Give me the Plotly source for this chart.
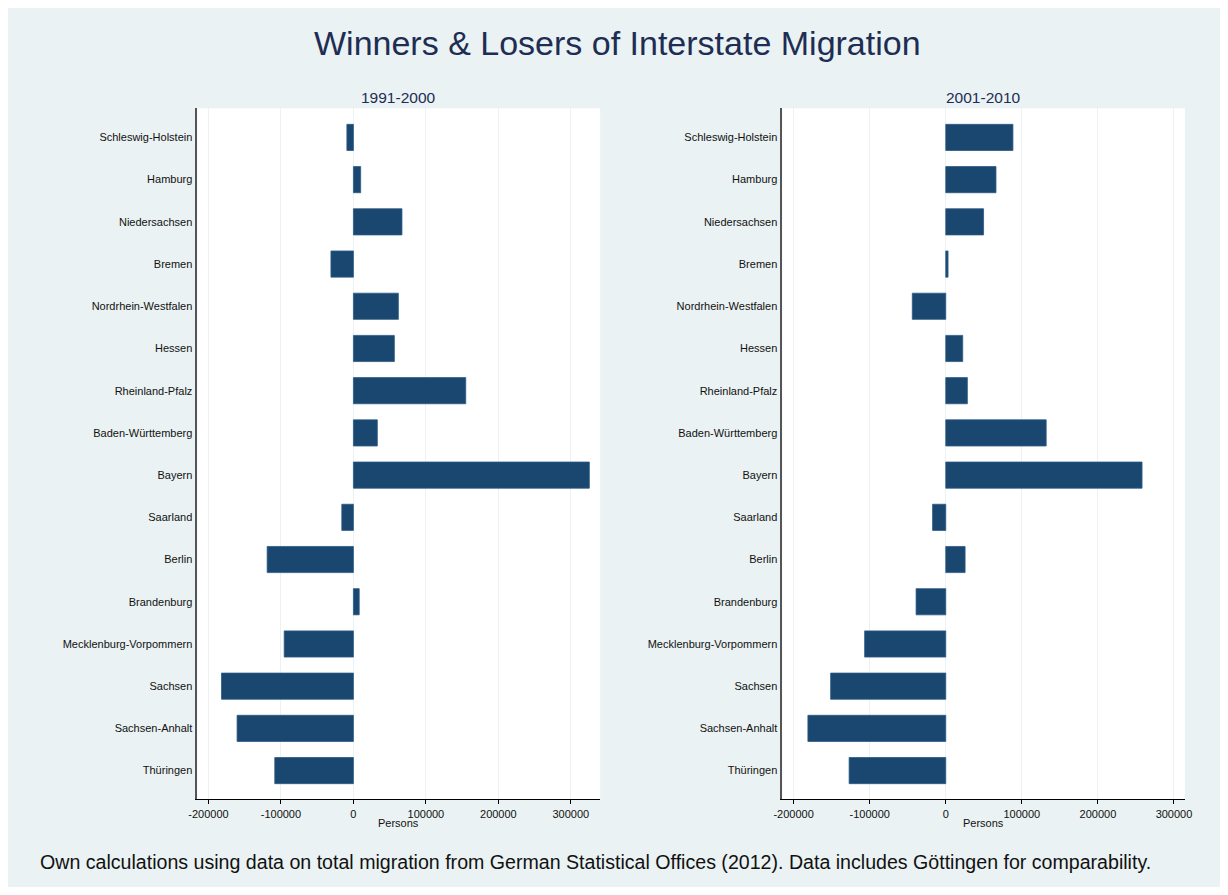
import plotly.graph_objects as go

states = ["Schleswig-Holstein", "Hamburg", "Niedersachsen", "Bremen",
          "Nordrhein-Westfalen", "Hessen", "Rheinland-Pfalz", "Baden-Württemberg",
          "Bayern", "Saarland", "Berlin", "Brandenburg",
          "Mecklenburg-Vorpommern", "Sachsen", "Sachsen-Anhalt", "Thüringen"]

net_1991_2000 = [-9000, 10000, 67000, -31000, 62000, 56500, 155000, 33000,
                 325500, -16000, -119000, 8000, -95500, -182000, -160500, -108500]

net_2001_2010 = [88300, 66000, 49700, 3000, -44000, 22300, 28400, 132000,
                 258000, -17300, 25400, -39000, -106600, -151300, -181200, -127000]

panel_titles = ["1991-2000", "2001-2010"]
x_ticks = [-200000, -100000, 0, 100000, 200000, 300000]
x_title = "Persons"
main_title = "Winners & Losers of Interstate Migration"
note = ("Own calculations using data on total migration from German Statistical "
        "Offices (2012). Data includes Göttingen for comparability.")

# page has an 8px body margin; figure frame starts at (8, 8) and must not overflow
OFF = 8
W, H = 1212, 879
BG = "#EAF2F3"
BAR = "#1A476F"
NAVY = "#1E2D53"
FONT = "Arial, Liberation Sans, sans-serif"

def px_x(p):
    return (p - OFF) / W

def px_y(p):
    return 1 - (p - OFF) / H

fig = go.Figure()

fig.add_trace(go.Bar(y=states, x=net_1991_2000, orientation="h",
                     marker=dict(color=BAR, line=dict(color="#2B5A85", width=0.8)),
                     width=0.62, xaxis="x", yaxis="y", showlegend=False))
fig.add_trace(go.Bar(y=states, x=net_2001_2010, orientation="h",
                     marker=dict(color=BAR, line=dict(color="#2B5A85", width=0.8)),
                     width=0.62, xaxis="x2", yaxis="y2", showlegend=False))

ydom = [px_y(799.3), px_y(108.3)]
xdom1 = [px_x(190.7), px_x(599)]
xdom2 = [px_x(783.5), px_x(1191.5)]

xcommon = dict(tickmode="array", tickvals=x_ticks,
               ticktext=[str(v) for v in x_ticks],
               showgrid=True, gridcolor=BG, gridwidth=1,
               zeroline=False, showline=True, linecolor="#000000", linewidth=1,
               ticks="outside", ticklen=4, tickcolor="#000000",
               tickfont=dict(family=FONT, size=11, color="#111111"),
               fixedrange=True)
ycommon = dict(type="category", categoryorder="array", categoryarray=states,
               range=[15.68, -0.69], showgrid=False, zeroline=False,
               showline=True, linecolor="#555555", linewidth=1.5,
               ticks="", ticklabelstandoff=1,
               tickfont=dict(family=FONT, size=11, color="#111111"),
               fixedrange=True)

fig.update_layout(
    width=W, height=H,
    margin=dict(l=0, r=0, t=0, b=0),
    paper_bgcolor=BG,
    plot_bgcolor="white",
    bargap=0.38,
    xaxis=dict(domain=xdom1, range=[-215400, 340500], anchor="y", **xcommon),
    yaxis=dict(domain=ydom, anchor="x", **ycommon),
    xaxis2=dict(domain=xdom2, range=[-214900, 314300], anchor="y2", **xcommon),
    yaxis2=dict(domain=ydom, anchor="x2", **ycommon),
    annotations=[
        dict(text=main_title, xref="paper", yref="paper", x=px_x(616.5), y=px_y(43),
             xanchor="center", yanchor="middle", showarrow=False,
             font=dict(family=FONT, size=34, color=NAVY)),
        dict(text=panel_titles[0], xref="paper", yref="paper",
             x=(xdom1[0] + xdom1[1]) / 2, y=px_y(97),
             xanchor="center", yanchor="middle", showarrow=False,
             font=dict(family=FONT, size=15.5, color=NAVY)),
        dict(text=panel_titles[1], xref="paper", yref="paper",
             x=(xdom2[0] + xdom2[1]) / 2, y=px_y(97),
             xanchor="center", yanchor="middle", showarrow=False,
             font=dict(family=FONT, size=15.5, color=NAVY)),
        dict(text=x_title, xref="paper", yref="paper",
             x=(xdom1[0] + xdom1[1]) / 2, y=px_y(823),
             xanchor="center", yanchor="middle", showarrow=False,
             font=dict(family=FONT, size=11, color="#111111")),
        dict(text=x_title, xref="paper", yref="paper",
             x=(xdom2[0] + xdom2[1]) / 2, y=px_y(823),
             xanchor="center", yanchor="middle", showarrow=False,
             font=dict(family=FONT, size=11, color="#111111")),
        dict(text=note, xref="paper", yref="paper", x=px_x(29), y=px_y(862),
             xanchor="left", yanchor="middle", showarrow=False,
             font=dict(family=FONT, size=19.6, color="#111111")),
    ],
)

fig.write_html("out.html")
